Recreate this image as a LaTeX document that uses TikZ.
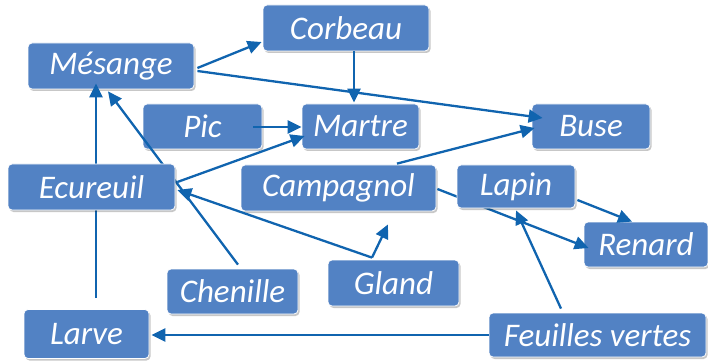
\documentclass[tikz,border=0pt]{standalone}
\usepackage{fontspec}
\setmainfont{Carlito}
\usetikzlibrary{arrows.meta,shadows,calc}
\definecolor{boxblue}{HTML}{5282C4}
\definecolor{linkblue}{HTML}{1064AF}
\tikzset{
  animal/.style={fill=boxblue, draw=white, line width=0.8pt, rounded corners=4pt,
    text=white, inner sep=0pt, align=center,
    font=\itshape\fontsize{33}{33}\selectfont,
    drop shadow={shadow xshift=1.5pt, shadow yshift=-2pt, opacity=0.22, fill=black}},
  link/.style={draw=linkblue, line width=2.3pt, -{Triangle[length=14pt,width=13pt]}},
}
\begin{document}
\begin{tikzpicture}[x=1pt,y=-1pt]
\useasboundingbox (0,0) rectangle (708,363);
% nodes drawn first (lines pass over them)
\node[animal, minimum width=166pt, minimum height=46pt] (mes) at (111,66) {Mésange};
\node[animal, minimum width=166pt, minimum height=46pt] (cor) at (346,28) {Corbeau};
\node[animal, minimum width=119pt, minimum height=45pt] (pic) at (202.5,126.5) {Pic};
\node[animal, minimum width=117pt, minimum height=45pt] (mar) at (360.5,126.5) {Martre};
\node[animal, minimum width=118pt, minimum height=45pt] (bus) at (591,126.5) {Buse};
\node[animal, minimum width=195pt, minimum height=46pt] (cam) at (338.5,188) {Campagnol};
\node[animal, minimum width=124pt, minimum height=45pt] (ren) at (646,244.5) {Renard};
\node[animal, minimum width=131pt, minimum height=45pt] (che) at (232.5,291.5) {Chenille};
\node[animal, minimum width=131pt, minimum height=46pt] (gla) at (393.5,283) {Gland};
\node[animal, minimum width=125pt, minimum height=49pt] (lar) at (86.5,334) {Larve};
\node[animal, minimum width=217pt, minimum height=44pt] (feu) at (597.5,335) {Feuilles vertes};
% links that pass behind Ecureuil and Lapin
\draw[link] ($(lar.north)+(9.5,-11)$) -- ($(mes.south)+(-15,-6)$);
\draw[link] ($(che.north)+(5.5,-4)$) -- ($(mes.south)+(-3,2)$);
\draw[link] ($(cam.east)+(1,1)$) -- ($(ren.west)+(5,3.5)$);
% boxes on top of those links
\node[animal, minimum width=167pt, minimum height=46pt] (ecu) at (91.5,187) {Ecureuil};
\node[animal, minimum width=118pt, minimum height=43pt] (lap) at (516,186.5) {Lapin};
% remaining links
\draw[link] ($(mes.east)+(3,2)$) -- ($(cor.west)+(-1,14)$);
\draw[link] ($(mes.east)+(3,5)$) -- ($(bus.west)+(11,-8.5)$);
\draw[link] ($(cor.south)+(8,0)$) -- ($(mar.north)+(-6.5,-1)$);
\draw[link] ($(pic.east)+(-9,0.5)$) -- ($(mar.west)+(0,0.5)$);
\draw[link] ($(ecu.east)+(2,-5)$) -- ($(mar.west)+(3,9.5)$);
\draw[link] ($(gla.north)+(-21.5,-2)$) -- ($(ecu.east)+(2,3)$);
\draw[link] ($(gla.north)+(-21.5,-2)$) -- ($(cam.south)+(49.5,13)$);
\draw[link] ($(cam.north)+(58.5,-1)$) -- ($(bus.west)+(3,1.5)$);
\draw[link] ($(lap.east)+(2,13.5)$) -- ($(ren.north)+(-14,0)$);
\draw[link] ($(feu.north)+(-36.5,-4)$) -- ($(lap.south)+(0,2)$);
\draw[link] (feu.west) -- ($(lar.east)+(2,1)$);
\end{tikzpicture}
\end{document}
